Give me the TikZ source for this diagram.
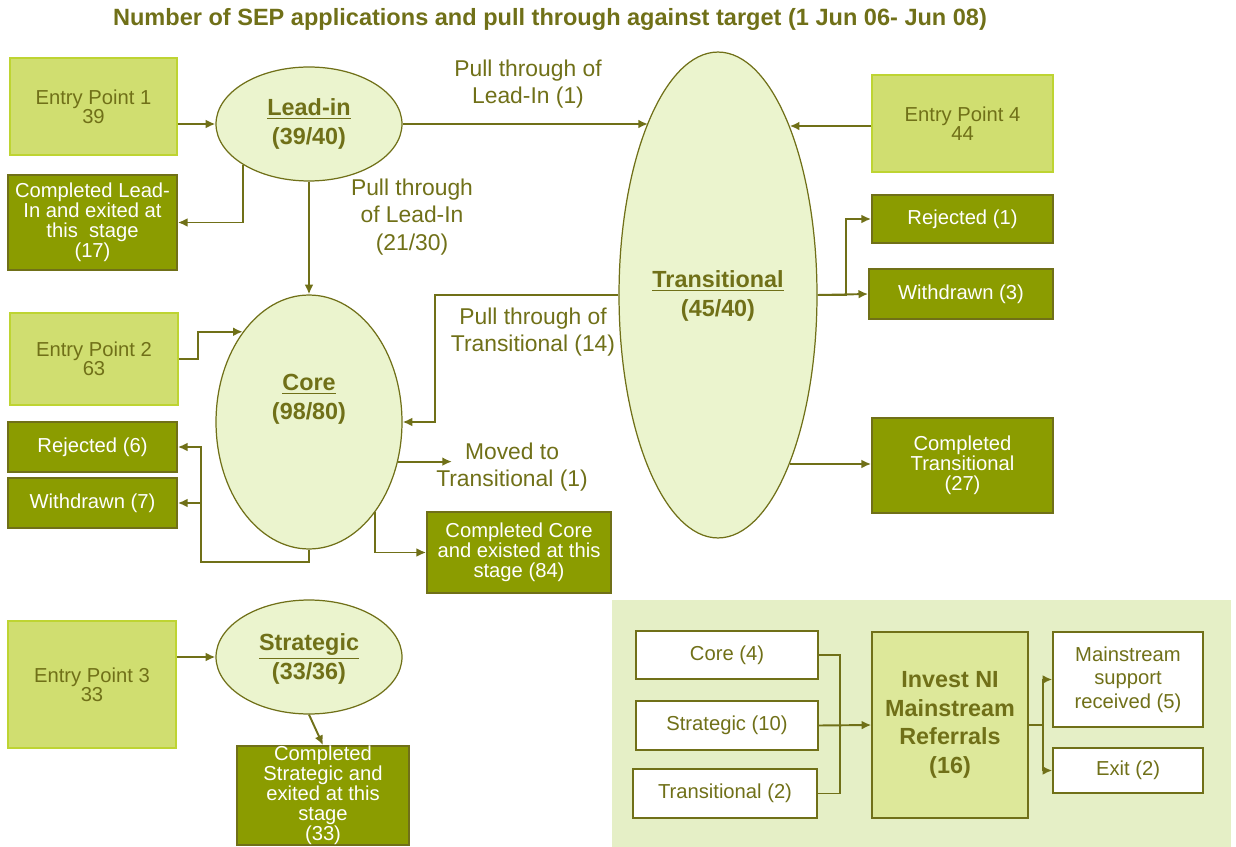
\documentclass[tikz,border=0pt]{standalone}
\usepackage{fontspec}
\setmainfont{Liberation Sans}
\usetikzlibrary{shapes.geometric,arrows.meta}
\definecolor{sepolive}{RGB}{112,112,24}
\definecolor{sepentry}{RGB}{208,222,112}
\definecolor{sepentryline}{RGB}{190,212,50}
\definecolor{sepdark}{RGB}{139,156,0}
\definecolor{sepstage}{RGB}{235,244,206}
\definecolor{seppanel}{RGB}{229,239,198}
\definecolor{sepinvest}{RGB}{221,232,154}
\tikzset{
	entrybox/.style={shape=rectangle, draw=sepentryline, fill=sepentry, line width=1pt, text=sepolive, align=center, font=\fontsize{11.5}{11}\selectfont},
	exitbox/.style={shape=rectangle, draw=sepolive, fill=sepdark, line width=1pt, text=white, align=center, font=\fontsize{11.5}{11.4}\selectfont},
	stage/.style={shape=ellipse, draw=sepolive, fill=sepstage, line width=0.7pt, inner sep=0pt},
	stagetext/.style={text=sepolive, align=center, font=\bfseries\fontsize{13.3}{16.5}\selectfont},
	flowlabel/.style={text=sepolive, align=center, font=\fontsize{13}{15.8}\selectfont},
	refbox/.style={shape=rectangle, draw=sepolive, fill=white, line width=0.8pt, text=sepolive, align=center, font=\fontsize{11.5}{13.4}\selectfont},
	wire/.style={draw=sepolive, line width=1.1pt},
}
\begin{document}
\begin{tikzpicture}[x=0.02cm, y=-0.02cm, >={Latex[length=5.5pt,width=5pt]}]
	\useasboundingbox (0,0) rectangle (1236,847);
	% Title:
	\node[text=sepolive, font=\bfseries\fontsize{13.4}{15}\selectfont] (title) at (550,19){Number of SEP applications and pull through against target (1 Jun 06- Jun 08)};
	% Stages:
	\node[stage, minimum width=3.72cm, minimum height=2.28cm] (lead) at (309,124){} node[stagetext] at (309,124){\underline{Lead-in}\\(39/40)};
	\node[stage, minimum width=3.72cm, minimum height=5.08cm] (core) at (309,422){} node[stagetext] at (309,399){\underline{Core}\\(98/80)};
	\node[stage, minimum width=3.96cm, minimum height=9.72cm] (trans) at (718,295){} node[stagetext] at (718,296){\underline{Transitional}\\(45/40)};
	\node[stage, minimum width=3.72cm, minimum height=2.28cm] (strat) at (309,657){} node[stagetext] at (309,659){\underline{Strategic}\\(33/36)};
	% Entry points:
	\node[entrybox, minimum width=3.34cm, minimum height=1.94cm] (ep1) at (93.5,106.5){Entry Point 1\\39};
	\node[entrybox, minimum width=3.36cm, minimum height=1.84cm] (ep2) at (94,359){Entry Point 2\\63};
	\node[entrybox, minimum width=3.36cm, minimum height=2.54cm] (ep3) at (92,684.5){Entry Point 3\\33};
	\node[entrybox, minimum width=3.62cm, minimum height=1.94cm] (ep4) at (962.5,123.5){Entry Point 4\\44};
	% Exits:
	\node[exitbox, minimum width=3.38cm, minimum height=1.9cm] (leadout) at (92.5,222.5){Completed Lead-\\In and exited at\\this\ \ stage\\(17)};
	\node[exitbox, minimum width=3.38cm, minimum height=1cm] (rej6) at (92.5,447){Rejected (6)};
	\node[exitbox, minimum width=3.38cm, minimum height=1cm] (wd7) at (92.5,503){Withdrawn (7)};
	\node[exitbox, minimum width=3.68cm, minimum height=1.62cm] (coreout) at (519,552.5){Completed Core\\and existed at this\\stage (84)};
	\node[exitbox, minimum width=3.44cm, minimum height=1.9cm, inner sep=0pt] (stratout) at (323,795.5){Completed\\Strategic and\\exited at this\\stage\\(33)};
	\node[exitbox, minimum width=3.62cm, minimum height=0.96cm] (rej1) at (962.5,219){Rejected (1)};
	\node[exitbox, minimum width=3.68cm, minimum height=1cm] (wd3) at (961,294){Withdrawn (3)};
	\node[exitbox, minimum width=3.62cm, minimum height=1.9cm] (transout) at (962.5,465.5){Completed\\Transitional\\(27)};
	% Flow labels:
	\node[flowlabel] (pullone) at (528,84){Pull through of\\Lead-In (1)};
	\node[flowlabel] (pullcore) at (412,217){Pull through\\of Lead-In\\(21/30)};
	\node[flowlabel] (pulltrans) at (533,332){Pull through of\\Transitional (14)};
	\node[flowlabel] (moved) at (512,467){Moved to\\Transitional (1)};
	% Wires:
	\draw[wire, ->] (ep1.east |- lead.west) -- (lead.west);
	\draw[wire, ->] (lead.south west) |- (leadout.east);
	\draw[wire, ->] (lead.south) -- (core.north);
	\draw[wire, ->] (lead.east) -- (lead.east -| trans.112.4);
	\draw[wire, ->] (ep4.west |- trans.67.6) -- (trans.67.6);
	\draw[wire, ->] (trans.east) -- (wd3.west);
	\draw[wire, ->] (trans.east) -- ++(28,0) |- (rej1.west);
	\draw[wire, ->] (trans.-67.6) -- (trans.-67.6 -| transout.west);
	\draw[wire, ->] (ep2.east) -- ++(19,0) |- (core.north west);
	\draw[wire, ->] (trans.west) -- ++(-183,0) |- (core.east);
	\draw[wire, ->] (core.-24) -- ++(54,0);
	\draw[wire, ->] (core.south east) |- (coreout.west);
	\coordinate (corebend) at (201,562);
	\draw[wire, ->] (core.south) |- (corebend) |- (rej6.east);
	\draw[wire, ->] (corebend |- wd7.east) -- (wd7.east);
	\draw[wire, ->] (ep3.east |- strat.west) -- (strat.west);
	\draw[wire, ->] (strat.south) -- (stratout.north);
	% Mainstream referrals panel:
	\fill[seppanel] (612,600) rectangle (1231,847);
	\node[refbox, minimum width=3.64cm, minimum height=0.96cm] (core4) at (727,655){Core (4)};
	\node[refbox, minimum width=3.64cm, minimum height=0.98cm] (strat10) at (727,725.5){Strategic (10)};
	\node[refbox, minimum width=3.68cm, minimum height=0.98cm] (trans2) at (725,793.5){Transitional (2)};
	\node[shape=rectangle, draw=sepolive, fill=sepinvest, line width=0.8pt, text=sepolive, align=center, font=\bfseries\fontsize{13.3}{16.3}\selectfont, minimum width=3.12cm, minimum height=3.72cm] (invest) at (950,725){Invest NI\\Mainstream\\Referrals\\(16)};
	\node[refbox, minimum width=3cm, minimum height=1.9cm] (mainst) at (1128,679.5){Mainstream\\support\\received (5)};
	\node[refbox, minimum width=3cm, minimum height=0.9cm] (exit2) at (1128,770.5){Exit (2)};
	\coordinate (refjoin) at (840,725);
	\draw[wire] (core4.east) -| (refjoin);
	\draw[wire] (trans2.east) -| (refjoin);
	\draw[wire, ->] (strat10.east) -- (invest.west);
	\draw[wire, ->] (invest.east) -- ++(14,0) |- (mainst.west);
	\draw[wire, ->] (invest.east) -- ++(14,0) |- (exit2.west);
\end{tikzpicture}
\end{document}
